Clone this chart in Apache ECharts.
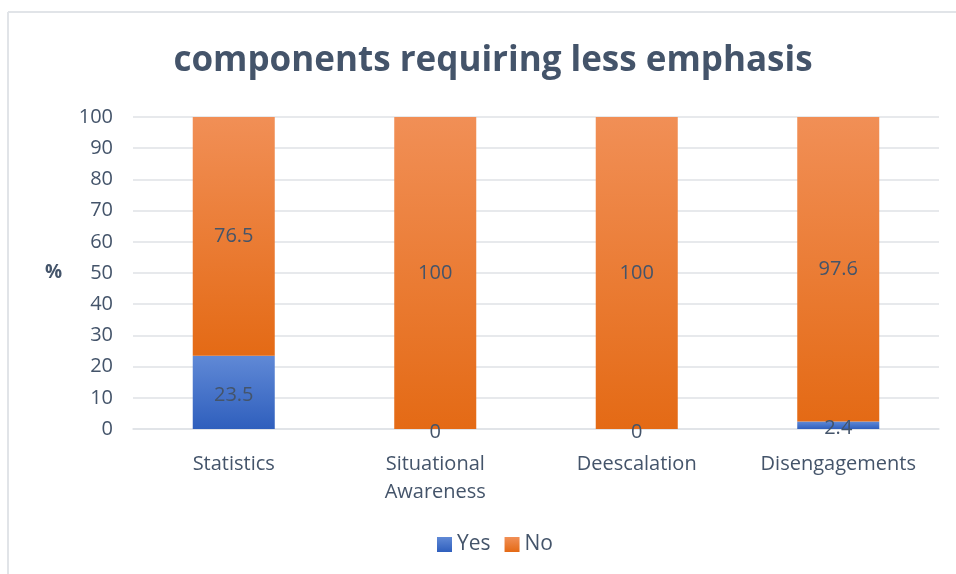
<!DOCTYPE html>
<html>
<head>
<meta charset="utf-8">
<script src="https://cdn.jsdelivr.net/npm/echarts@6/dist/echarts.min.js"></script>
<style>
  html, body { margin: 0; padding: 0; background: #ffffff; }
  #chart { width: 956px; height: 574px; }
</style>
</head>
<body>
<div id="chart"></div>
<script>
// Share of respondents (%) per training component
const categories = ['Statistics', 'Situational\nAwareness', 'Deescalation', 'Disengagements'];
const yesValues = [23.5, 0, 0, 2.4];
const noValues = [76.5, 100, 100, 97.6];
const yTicks = [0, 100, 10];

const textColor = '#44546A';
const fontFamily = '"Open Sans", "Noto Sans", sans-serif';

function vGrad(top, bottom) {
  return new echarts.graphic.LinearGradient(0, 0, 0, 1, [
    { offset: 0, color: top },
    { offset: 1, color: bottom }
  ]);
}

const chart = echarts.init(document.getElementById('chart'), null, { renderer: 'canvas' });

const labelStyle = {
  show: true,
  position: 'inside',
  color: textColor,
  fontFamily: fontFamily,
  fontSize: 20
};

chart.setOption({
  animation: false,
  backgroundColor: '#ffffff',
  textStyle: { fontFamily: fontFamily, color: textColor },
  title: {
    text: 'components requiring less emphasis',
    left: 488,
    textAlign: 'center',
    top: 39,
    textStyle: {
      color: textColor,
      fontFamily: fontFamily,
      fontWeight: 'bold',
      fontSize: 35
    }
  },
  graphic: [
    { type: 'line', shape: { x1: 8, y1: 12, x2: 956, y2: 12 }, style: { stroke: '#e1e4e8', lineWidth: 2 } },
    { type: 'line', shape: { x1: 8, y1: 12, x2: 8, y2: 574 }, style: { stroke: '#e1e4e8', lineWidth: 2 } }
  ],
  legend: {
    bottom: 14,
    left: 432,
    icon: 'rect',
    itemWidth: 15,
    itemHeight: 15,
    itemGap: 14,
    textStyle: { color: textColor, fontFamily: fontFamily, fontSize: 21 },
    data: ['Yes', 'No']
  },
  grid: { left: 133, right: 17, top: 117, bottom: 145 },
  xAxis: {
    type: 'category',
    data: categories,
    axisLine: { show: true, lineStyle: { color: '#dfe2e6', width: 1.5 } },
    axisTick: { show: false },
    axisLabel: {
      interval: 0,
      color: textColor,
      fontFamily: fontFamily,
      fontSize: 20,
      margin: 21,
      lineHeight: 28
    }
  },
  yAxis: {
    type: 'value',
    min: yTicks[0],
    max: yTicks[1],
    interval: yTicks[2],
    name: '%',
    nameLocation: 'middle',
    nameRotate: 0,
    nameGap: 71,
    nameTextStyle: { color: textColor, fontFamily: fontFamily, fontSize: 19, fontWeight: 'bold' },
    axisLine: { show: false },
    axisTick: { show: false },
    axisLabel: { color: textColor, fontFamily: fontFamily, fontSize: 20, margin: 20 },
    splitLine: { lineStyle: { color: '#dfe2e6', width: 1.5 } }
  },
  series: [
    {
      name: 'Yes',
      type: 'bar',
      stack: 'total',
      barWidth: '40.7%',
      data: yesValues,
      itemStyle: { color: vGrad('#6089d6', '#2f5fbd') },
      label: Object.assign({}, labelStyle, { offset: [0, 3] })
    },
    {
      name: 'No',
      type: 'bar',
      stack: 'total',
      barWidth: '40.7%',
      data: noValues,
      itemStyle: { color: vGrad('#f18f56', '#e46a15') },
      label: labelStyle
    }
  ]
});
</script>
</body>
</html>
